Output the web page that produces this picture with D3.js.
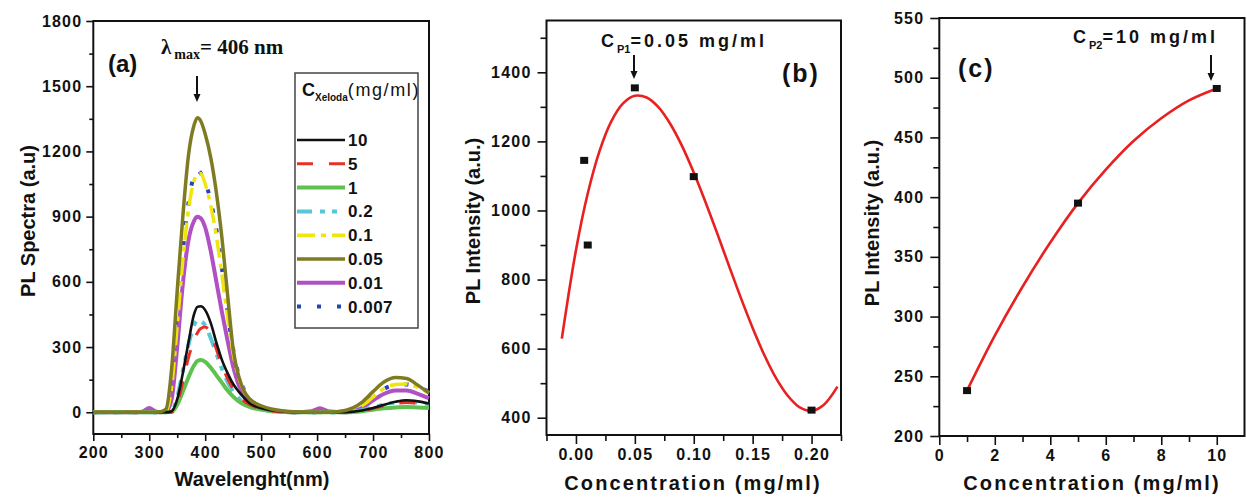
<!DOCTYPE html>
<html>
<head>
<meta charset="utf-8">
<script src="https://cdn.jsdelivr.net/npm/d3@7"></script>
<style>
  body { margin: 0; background: #fff; }
  svg { display: block; font-family: "Liberation Sans", Arial, sans-serif; }
  .tick text { font-weight: bold; font-size: 16px; letter-spacing: 1.2px; fill: #111; }
  .tick line { stroke: #111; stroke-width: 1.6px; }
</style>
</head>
<body>
<svg id="chart" width="1247" height="497"></svg>
<script>
// ---------- panel (a): PL spectra ----------
const WL = [200, 280, 290, 300, 310, 320, 330, 340, 350, 360, 370, 380, 386, 392, 400, 410, 420, 430, 440, 450,
            460, 470, 480, 500, 520, 540, 560, 590, 605, 620, 650, 680, 700, 720, 740, 760, 780, 800];

const S_10    = [0, 0, 0, 0, 0, 0, 0, 5, 60, 180, 320, 450, 485, 488, 470, 410, 320, 240, 180, 130,
                 95, 65, 40, 18, 8, 3, 0, 0, 0, 0, 0, 8, 20, 35, 48, 55, 50, 40];
const S_5     = [0, 0, 0, 0, 0, 0, 0, 0, 40, 140, 250, 330, 365, 385, 392, 360, 290, 215, 155, 108,
                 75, 50, 35, 15, 6, 2, 0, 0, 0, 0, 0, 8, 18, 30, 40, 45, 42, 35];
const S_1     = [0, 0, 0, 0, 0, 0, 0, 3, 35, 95, 160, 215, 236, 240, 232, 205, 170, 135, 100, 72,
                 50, 35, 24, 12, 5, 2, 0, 0, 0, 0, 0, 5, 12, 18, 22, 24, 22, 20];
const S_02    = [0, 0, 0, 0, 0, 0, 0, 5, 70, 190, 310, 400, 424, 420, 400, 340, 270, 200, 140, 95,
                 65, 42, 28, 14, 5, 2, 0, 0, 0, 0, 0, 10, 22, 36, 45, 48, 44, 38];
const S_01    = [0, 0, 0, 0, 0, 0, 5, 120, 400, 700, 930, 1065, 1095, 1098, 1050, 950, 810, 630, 440, 270,
                 160, 95, 55, 25, 10, 4, 0, 0, 0, 0, 3, 30, 70, 110, 128, 130, 115, 90];
const S_005   = [0, 0, 0, 0, 0, 2, 15, 200, 560, 900, 1180, 1320, 1355, 1340, 1280, 1170, 1010, 800, 540, 290,
                 165, 95, 60, 30, 14, 6, 2, 0, 0, 0, 8, 45, 95, 140, 160, 155, 125, 88];
const S_001   = [0, 0, 5, 20, 5, 0, 5, 60, 300, 590, 790, 880, 900, 893, 850, 740, 600, 460, 330, 210,
                 125, 75, 45, 20, 8, 3, 0, 5, 18, 5, 0, 20, 55, 85, 100, 100, 85, 65];
const S_0007  = [0, 0, 0, 0, 0, 0, 5, 140, 430, 740, 960, 1090, 1115, 1100, 1060, 970, 840, 660, 460, 290,
                 170, 100, 60, 28, 12, 4, 0, 0, 0, 0, 3, 30, 70, 108, 125, 128, 115, 95];

const LEGEND_LABELS = ["10", "5", "1", "0.2", "0.1", "0.05", "0.01", "0.007"];
const A_X_TICKS = [200, 300, 400, 500, 600, 700, 800];
const A_Y_TICKS = [0, 300, 600, 900, 1200, 1500, 1800];

// ---------- panel (b): intensity vs concentration, low range ----------
const B_CONC = [0.007, 0.01, 0.05, 0.1, 0.2];
const B_INT  = [1145, 900, 1355, 1098, 422];
const B_FIT_X = [-0.012, 0, 0.01, 0.02, 0.03, 0.04, 0.05, 0.06, 0.07, 0.08, 0.09, 0.10,
                 0.11, 0.12, 0.13, 0.14, 0.15, 0.16, 0.17, 0.18, 0.19, 0.20, 0.21, 0.222];
const B_FIT_Y = [629, 885, 1049, 1172, 1258, 1310, 1332, 1327, 1299, 1251, 1187, 1110,
                 1024, 933, 839, 747, 660, 581, 514, 463, 430, 420, 436, 490];
const B_X_TICKS = [0, 0.05, 0.10, 0.15, 0.20];
const B_Y_TICKS = [400, 600, 800, 1000, 1200, 1400];

// ---------- panel (c): intensity vs concentration, high range ----------
const C_CONC = [1, 5, 10];
const C_INT  = [238, 395, 491];
const C_FIT_X = [1, 2, 3, 4, 5, 6, 7, 8, 9, 10];
const C_FIT_Y = [238, 284, 325, 362, 395, 423, 447, 466, 481, 491];
const C_X_TICKS = [0, 2, 4, 6, 8, 10];
const C_Y_TICKS = [200, 250, 300, 350, 400, 450, 500, 550];

const svg = d3.select("#chart");

// axes with outward major + minor ticks and a full frame
function drawFrame(x, y, o) {
    const g = svg.append("g");
    const [x0, x1] = x.range(), [y0, y1] = y.range();

    g.append("g").attr("transform", `translate(0,${y0})`)
        .call(d3.axisBottom(x).tickValues(o.xMinor).tickSize(o.minor).tickFormat(""));
    g.append("g").attr("transform", `translate(0,${y0})`)
        .call(d3.axisBottom(x).tickValues(o.xTicks).tickSize(o.major).tickPadding(o.xPad).tickFormat(o.xFmt));
    g.append("g").attr("transform", `translate(${x0},0)`)
        .call(d3.axisLeft(y).tickValues(o.yMinor).tickSize(o.minor).tickFormat(""));
    g.append("g").attr("transform", `translate(${x0},0)`)
        .call(d3.axisLeft(y).tickValues(o.yTicks).tickSize(o.major).tickPadding(o.yPad).tickFormat(d3.format("d")));
    g.selectAll(".domain").remove();

    g.append("rect")
        .attr("x", x0).attr("y", y1)
        .attr("width", x1 - x0).attr("height", y0 - y1)
        .attr("fill", "none").attr("stroke", "#111").attr("stroke-width", 2);
}

function axisTitles(xt, xx, xy, yt, yx, yy, size, spacing) {
    svg.append("text").attr("x", xx).attr("y", xy)
        .attr("text-anchor", "middle").attr("font-weight", "bold")
        .attr("font-size", size).attr("letter-spacing", spacing).attr("fill", "#111")
        .text(xt);
    svg.append("text").attr("transform", `translate(${yx},${yy}) rotate(-90)`)
        .attr("text-anchor", "middle").attr("font-weight", "bold")
        .attr("font-size", size).attr("fill", "#111")
        .text(yt);
}

function arrow(x, ya, yb) {
    svg.append("line").attr("x1", x).attr("x2", x).attr("y1", ya).attr("y2", yb - 6)
        .attr("stroke", "#111").attr("stroke-width", 2);
    svg.append("path").attr("d", `M${x - 3.5},${yb - 8}L${x + 3.5},${yb - 8}L${x},${yb}Z`).attr("fill", "#111");
}

// ================= panel (a) =================
const xA = d3.scaleLinear().domain([200, 800]).range([93.3, 429]);
const yA = d3.scaleLinear().domain([-100, 1800]).range([434, 21]);

drawFrame(xA, yA, {
    xTicks: A_X_TICKS, xMinor: d3.range(250, 800, 100), yTicks: A_Y_TICKS, yMinor: d3.range(150, 1800, 300),
    major: 7, minor: 4, xPad: 6, yPad: 4, xFmt: d3.format("d")
});

const seriesA = [
    { label: "10",    values: S_10,   color: "#111111", width: 2.6, dash: null },
    { label: "5",     values: S_5,    color: "#e8302a", width: 3,   dash: "16,16" },
    { label: "1",     values: S_1,    color: "#5fc24e", width: 4,   dash: null },
    { label: "0.2",   values: S_02,   color: "#58c6d6", width: 4,   dash: "15,8,5,7,5,8" },
    { label: "0.1",   values: S_01,   color: "#f0e60c", width: 3.5, dash: "18,6,5,6" },
    { label: "0.05",  values: S_005,  color: "#7f7b22", width: 3.5, dash: null },
    { label: "0.01",  values: S_001,  color: "#b050c4", width: 4,   dash: null },
    { label: "0.007", values: S_0007, color: "#2546b8", width: 4,   dash: "4,16" }
];

const lineA = d3.line().x(d => xA(d[0])).y(d => yA(d[1])).curve(d3.curveMonotoneX);
const drawOrder = ["0.007", "0.01", "0.1", "0.2", "1", "5", "10", "0.05"];
drawOrder.forEach(function(lab) {
    const s = seriesA.find(d => d.label === lab);
    svg.append("path")
        .datum(WL.map((w, i) => [w, s.values[i]]))
        .attr("d", lineA)
        .attr("fill", "none")
        .attr("stroke", s.color)
        .attr("stroke-width", s.width)
        .attr("stroke-dasharray", s.dash);
});

// legend box
svg.append("rect").attr("x", 295).attr("y", 73).attr("width", 123).attr("height", 255)
    .attr("fill", "#fff").attr("stroke", "#444").attr("stroke-width", 1.5);
const lt = svg.append("text").attr("x", 302).attr("y", 96).attr("fill", "#111").attr("font-size", 18);
lt.append("tspan").attr("font-weight", "bold").text("C");
lt.append("tspan").attr("font-weight", "bold").attr("font-size", 10).attr("dy", 5).text("Xeloda");
lt.append("tspan").attr("dy", -5).attr("letter-spacing", 1.6).text("(mg/ml)");

LEGEND_LABELS.forEach(function(lab, i) {
    const s = seriesA.find(d => d.label === lab);
    const ly = 140 + i * 23.8;
    svg.append("line").attr("x1", 297).attr("x2", 345).attr("y1", ly).attr("y2", ly)
        .attr("stroke", s.color).attr("stroke-width", s.width).attr("stroke-dasharray", s.dash);
    svg.append("text").attr("x", 348).attr("y", ly + 6)
        .attr("font-size", 17).attr("font-weight", "bold").attr("letter-spacing", 0.5).attr("fill", "#111")
        .text(lab);
});

svg.append("text").attr("x", 108).attr("y", 72).attr("font-size", 24).attr("font-weight", "bold")
    .attr("fill", "#111").text("(a)");
const lam = svg.append("text").attr("x", 161).attr("y", 54).attr("font-family", "'Liberation Serif', 'Times New Roman', serif")
    .attr("font-weight", "bold").attr("font-size", 21).attr("fill", "#111");
lam.append("tspan").text("λ");
lam.append("tspan").attr("font-size", 14).attr("dx", 3).attr("dy", 5).text("max");
lam.append("tspan").attr("dy", -5).text("= 406 nm");
arrow(197, 76, 102);

axisTitles("Wavelenght(nm)", 252, 486, "PL Spectra (a.u)", 35, 221, 20, 0);

// ================= panel (b) =================
const xB = d3.scaleLinear().domain([-0.025, 0.225]).range([546.5, 841]);
const yB = d3.scaleLinear().domain([350, 1550]).range([435, 20.5]);

drawFrame(xB, yB, {
    xTicks: B_X_TICKS, xMinor: d3.range(-0.025, 0.23, 0.05), yTicks: B_Y_TICKS, yMinor: d3.range(500, 1550, 200),
    major: 9, minor: 6, xPad: 5, yPad: 6, xFmt: d3.format(".2f")
});

svg.append("path")
    .datum(B_FIT_X.map((v, i) => [v, B_FIT_Y[i]]))
    .attr("d", d3.line().x(d => xB(d[0])).y(d => yB(d[1])).curve(d3.curveCatmullRom.alpha(0.5)))
    .attr("fill", "none").attr("stroke", "#e82020").attr("stroke-width", 2.6);

svg.selectAll(".ptB").data(B_CONC).enter().append("rect")
    .attr("x", (d) => xB(d) - 4).attr("y", (d, i) => yB(B_INT[i]) - 3.5)
    .attr("width", 8).attr("height", 7).attr("fill", "#111");

const cb = svg.append("text").attr("x", 601).attr("y", 47).attr("font-size", 18).attr("font-weight", "bold").attr("fill", "#111");
cb.append("tspan").text("C");
cb.append("tspan").attr("font-size", 11).attr("dx", 3).attr("dy", 6).text("P1");
cb.append("tspan").attr("dy", -6).attr("letter-spacing", 3).text("=0.05 mg/ml");
arrow(634, 55, 79);
svg.append("text").attr("x", 782).attr("y", 82).attr("font-size", 25).attr("font-weight", "bold")
    .attr("letter-spacing", 2).attr("fill", "#111").text("(b)");

axisTitles("Concentration (mg/ml)", 693, 490, "PL Intensity (a.u.)", 480, 221, 20, 2.1);

// ================= panel (c) =================
const xC = d3.scaleLinear().domain([0, 11]).range([939.3, 1244.5]);
const yC = d3.scaleLinear().domain([200, 550]).range([436, 18]);

drawFrame(xC, yC, {
    xTicks: C_X_TICKS, xMinor: d3.range(1, 11, 2), yTicks: C_Y_TICKS, yMinor: d3.range(225, 550, 50),
    major: 9, minor: 6, xPad: 5, yPad: 6, xFmt: d3.format("d")
});

svg.append("path")
    .datum(C_FIT_X.map((v, i) => [v, C_FIT_Y[i]]))
    .attr("d", d3.line().x(d => xC(d[0])).y(d => yC(d[1])).curve(d3.curveCatmullRom.alpha(0.5)))
    .attr("fill", "none").attr("stroke", "#e82020").attr("stroke-width", 2.6);

svg.selectAll(".ptC").data(C_CONC).enter().append("rect")
    .attr("x", (d) => xC(d) - 4).attr("y", (d, i) => yC(C_INT[i]) - 3.5)
    .attr("width", 8).attr("height", 7).attr("fill", "#111");

const cc = svg.append("text").attr("x", 1073).attr("y", 43).attr("font-size", 18).attr("font-weight", "bold").attr("fill", "#111");
cc.append("tspan").text("C");
cc.append("tspan").attr("font-size", 11).attr("dx", 3).attr("dy", 6).text("P2");
cc.append("tspan").attr("dy", -6).attr("letter-spacing", 3).text("=10 mg/ml");
arrow(1211, 55, 81);
svg.append("text").attr("x", 958).attr("y", 77).attr("font-size", 25).attr("font-weight", "bold")
    .attr("letter-spacing", 2).attr("fill", "#111").text("(c)");

axisTitles("Concentration (mg/ml)", 1092, 490, "PL Intensity (a.u.)", 879, 223, 20, 2.1);
</script>
</body>
</html>
